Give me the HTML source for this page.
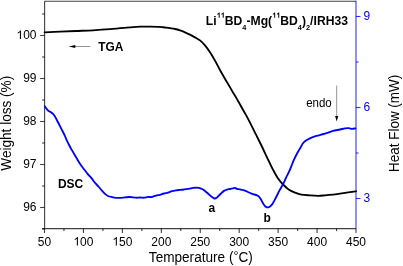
<!DOCTYPE html>
<html><head><meta charset="utf-8"><style>
html,body{margin:0;padding:0;background:#fff;}
svg{display:block;will-change:transform;}
text{font-family:"Liberation Sans", sans-serif;}
</style></head><body>
<svg width="403" height="266" viewBox="0 0 403 266">
<rect x="0" y="0" width="403" height="266" fill="#fff"/>
<g stroke="#000" stroke-width="1.1" stroke-opacity="0.75" fill="none">
<line x1="44.6" y1="1.3" x2="356.0" y2="1.3"/>
<line x1="44.6" y1="1.3" x2="44.6" y2="228.6"/>
<line x1="42.1" y1="228.6" x2="356.0" y2="228.6"/>
<line x1="44.50" y1="228.6" x2="44.50" y2="233.1" /><line x1="83.44" y1="228.6" x2="83.44" y2="233.1" /><line x1="122.38" y1="228.6" x2="122.38" y2="233.1" /><line x1="161.31" y1="228.6" x2="161.31" y2="233.1" /><line x1="200.25" y1="228.6" x2="200.25" y2="233.1" /><line x1="239.19" y1="228.6" x2="239.19" y2="233.1" /><line x1="278.12" y1="228.6" x2="278.12" y2="233.1" /><line x1="317.06" y1="228.6" x2="317.06" y2="233.1" /><line x1="356.00" y1="228.6" x2="356.00" y2="233.1" /><line x1="63.97" y1="228.6" x2="63.97" y2="231.1" /><line x1="102.91" y1="228.6" x2="102.91" y2="231.1" /><line x1="141.84" y1="228.6" x2="141.84" y2="231.1" /><line x1="180.78" y1="228.6" x2="180.78" y2="231.1" /><line x1="219.72" y1="228.6" x2="219.72" y2="231.1" /><line x1="258.66" y1="228.6" x2="258.66" y2="231.1" /><line x1="297.59" y1="228.6" x2="297.59" y2="231.1" /><line x1="336.53" y1="228.6" x2="336.53" y2="231.1" />
<line x1="40.1" y1="207.50" x2="44.6" y2="207.50" /><line x1="40.1" y1="164.50" x2="44.6" y2="164.50" /><line x1="40.1" y1="121.50" x2="44.6" y2="121.50" /><line x1="40.1" y1="78.50" x2="44.6" y2="78.50" /><line x1="40.1" y1="35.50" x2="44.6" y2="35.50" /><line x1="42.1" y1="229.00" x2="44.6" y2="229.00" /><line x1="42.1" y1="186.00" x2="44.6" y2="186.00" /><line x1="42.1" y1="143.00" x2="44.6" y2="143.00" /><line x1="42.1" y1="100.00" x2="44.6" y2="100.00" /><line x1="42.1" y1="57.00" x2="44.6" y2="57.00" /><line x1="42.1" y1="14.00" x2="44.6" y2="14.00" />
</g>
<g stroke="#0000ff" stroke-width="1.1" stroke-opacity="0.8" fill="none">
<line x1="356.0" y1="0.8" x2="356.0" y2="228.6"/>
<line x1="356.0" y1="198.50" x2="360.5" y2="198.50" /><line x1="356.0" y1="107.50" x2="360.5" y2="107.50" /><line x1="356.0" y1="16.50" x2="360.5" y2="16.50" /><line x1="356.0" y1="153.00" x2="358.5" y2="153.00" /><line x1="356.0" y1="62.00" x2="358.5" y2="62.00" />
</g>
<path d="M44.60,32.30 C47.17,32.20 54.77,31.92 60.00,31.70 C65.23,31.48 70.50,31.23 76.00,31.00 C81.50,30.77 87.33,30.60 93.00,30.30 C98.67,30.00 105.50,29.55 110.00,29.20 C114.50,28.85 116.67,28.50 120.00,28.20 C123.33,27.90 126.67,27.65 130.00,27.40 C133.33,27.15 136.67,26.83 140.00,26.70 C143.33,26.57 146.67,26.58 150.00,26.60 C153.33,26.62 157.50,26.65 160.00,26.80 C162.50,26.95 163.33,27.27 165.00,27.50 C166.67,27.73 168.33,27.95 170.00,28.20 C171.67,28.45 173.33,28.63 175.00,29.00 C176.67,29.37 178.33,29.85 180.00,30.40 C181.67,30.95 183.33,31.60 185.00,32.30 C186.67,33.00 188.33,33.75 190.00,34.60 C191.67,35.45 193.33,36.43 195.00,37.40 C196.67,38.37 198.33,39.07 200.00,40.40 C201.67,41.73 203.33,43.42 205.00,45.40 C206.67,47.38 208.33,49.77 210.00,52.30 C211.67,54.83 213.32,57.62 215.00,60.60 C216.68,63.58 218.68,67.60 220.10,70.20 C221.52,72.80 222.38,74.25 223.50,76.20 C224.62,78.15 225.68,80.00 226.80,81.90 C227.92,83.80 229.12,85.75 230.20,87.60 C231.28,89.45 232.40,91.50 233.30,93.00 C234.20,94.50 234.65,95.00 235.60,96.60 C236.55,98.20 237.87,100.58 239.00,102.60 C240.13,104.62 241.27,106.70 242.40,108.70 C243.53,110.70 244.62,112.45 245.80,114.60 C246.98,116.75 248.32,119.30 249.50,121.60 C250.68,123.90 251.77,126.13 252.90,128.40 C254.03,130.67 255.17,132.93 256.30,135.20 C257.43,137.47 258.57,139.70 259.70,142.00 C260.83,144.30 261.97,146.60 263.10,149.00 C264.23,151.40 265.38,154.03 266.50,156.40 C267.62,158.77 268.65,160.87 269.80,163.20 C270.95,165.53 272.05,167.88 273.40,170.40 C274.75,172.92 276.37,176.03 277.90,178.30 C279.43,180.57 280.82,182.13 282.60,184.00 C284.38,185.87 286.53,188.07 288.60,189.50 C290.67,190.93 292.88,191.75 295.00,192.60 C297.12,193.45 298.80,194.13 301.30,194.60 C303.80,195.07 307.22,195.20 310.00,195.40 C312.78,195.60 315.50,195.80 318.00,195.80 C320.50,195.80 322.50,195.58 325.00,195.40 C327.50,195.22 330.50,194.98 333.00,194.70 C335.50,194.42 338.00,194.00 340.00,193.70 C342.00,193.40 343.33,193.17 345.00,192.90 C346.67,192.63 348.17,192.37 350.00,192.10 C351.83,191.83 355.00,191.43 356.00,191.30" fill="none" stroke="#000" stroke-width="1.85" stroke-linejoin="round" stroke-linecap="round"/>
<path d="M44.80,106.30 C45.12,106.73 46.07,108.12 46.70,108.90 C47.33,109.68 47.90,110.45 48.60,111.00 C49.30,111.55 50.12,111.67 50.90,112.20 C51.68,112.73 52.52,113.30 53.30,114.20 C54.08,115.10 54.95,116.50 55.60,117.60 C56.25,118.70 56.53,119.52 57.20,120.80 C57.87,122.08 58.77,123.68 59.60,125.30 C60.43,126.92 61.32,128.75 62.20,130.50 C63.08,132.25 64.13,134.15 64.90,135.80 C65.67,137.45 66.20,139.07 66.80,140.40 C67.40,141.73 67.90,142.62 68.50,143.80 C69.10,144.98 69.72,146.25 70.40,147.50 C71.08,148.75 71.85,150.02 72.60,151.30 C73.35,152.58 74.03,153.72 74.90,155.20 C75.77,156.68 76.75,158.47 77.80,160.20 C78.85,161.93 80.17,164.10 81.20,165.60 C82.23,167.10 82.93,167.83 84.00,169.20 C85.07,170.57 86.35,172.30 87.60,173.80 C88.85,175.30 90.22,176.63 91.50,178.20 C92.78,179.77 94.17,181.85 95.30,183.20 C96.43,184.55 97.22,185.10 98.30,186.30 C99.38,187.50 100.68,189.13 101.80,190.40 C102.92,191.67 103.97,192.97 105.00,193.90 C106.03,194.83 106.83,195.47 108.00,196.00 C109.17,196.53 110.67,196.80 112.00,197.10 C113.33,197.40 114.67,197.68 116.00,197.80 C117.33,197.92 118.50,197.87 120.00,197.80 C121.50,197.73 123.33,197.53 125.00,197.40 C126.67,197.27 128.17,196.95 130.00,197.00 C131.83,197.05 134.33,197.62 136.00,197.70 C137.67,197.78 138.67,197.50 140.00,197.50 C141.33,197.50 142.67,197.80 144.00,197.70 C145.33,197.60 146.83,197.00 148.00,196.90 C149.17,196.80 150.00,197.22 151.00,197.10 C152.00,196.98 153.00,196.50 154.00,196.20 C155.00,195.90 156.00,195.53 157.00,195.30 C158.00,195.07 158.83,195.10 160.00,194.80 C161.17,194.50 162.67,193.85 164.00,193.50 C165.33,193.15 166.67,193.10 168.00,192.70 C169.33,192.30 170.67,191.50 172.00,191.10 C173.33,190.70 174.67,190.50 176.00,190.30 C177.33,190.10 178.67,190.03 180.00,189.90 C181.33,189.77 182.33,189.70 184.00,189.50 C185.67,189.30 188.50,188.97 190.00,188.70 C191.50,188.43 192.00,188.07 193.00,187.90 C194.00,187.73 195.00,187.70 196.00,187.70 C197.00,187.70 198.00,187.68 199.00,187.90 C200.00,188.12 201.00,188.50 202.00,189.00 C203.00,189.50 204.00,190.15 205.00,190.90 C206.00,191.65 207.00,192.62 208.00,193.50 C209.00,194.38 210.08,195.45 211.00,196.20 C211.92,196.95 212.83,197.62 213.50,198.00 C214.17,198.38 214.42,198.57 215.00,198.50 C215.58,198.43 216.50,197.95 217.00,197.60 C217.50,197.25 217.33,197.08 218.00,196.40 C218.67,195.72 220.00,194.42 221.00,193.50 C222.00,192.58 223.00,191.55 224.00,190.90 C225.00,190.25 226.00,189.92 227.00,189.60 C228.00,189.28 229.00,189.22 230.00,189.00 C231.00,188.78 232.17,188.48 233.00,188.30 C233.83,188.12 234.33,187.80 235.00,187.90 C235.67,188.00 236.17,188.65 237.00,188.90 C237.83,189.15 238.67,189.12 240.00,189.40 C241.33,189.68 243.50,190.08 245.00,190.60 C246.50,191.12 247.67,191.90 249.00,192.50 C250.33,193.10 251.67,193.73 253.00,194.20 C254.33,194.67 256.00,194.88 257.00,195.30 C258.00,195.72 258.33,195.98 259.00,196.70 C259.67,197.42 260.33,198.50 261.00,199.60 C261.67,200.70 262.33,202.22 263.00,203.30 C263.67,204.38 264.33,205.43 265.00,206.10 C265.67,206.77 266.33,207.13 267.00,207.30 C267.67,207.47 268.33,207.37 269.00,207.10 C269.67,206.83 270.33,206.38 271.00,205.70 C271.67,205.02 272.20,204.32 273.00,203.00 C273.80,201.68 274.67,199.98 275.80,197.80 C276.93,195.62 278.57,192.22 279.80,189.90 C281.03,187.58 282.12,186.02 283.20,183.90 C284.28,181.78 285.28,179.32 286.30,177.20 C287.32,175.08 288.47,173.02 289.30,171.20 C290.13,169.38 290.53,168.18 291.30,166.30 C292.07,164.42 292.92,162.08 293.90,159.90 C294.88,157.72 296.10,155.23 297.20,153.20 C298.30,151.17 299.57,149.32 300.50,147.70 C301.43,146.08 301.95,144.65 302.80,143.50 C303.65,142.35 304.50,141.62 305.60,140.80 C306.70,139.98 307.98,139.28 309.40,138.60 C310.82,137.92 312.53,137.25 314.10,136.70 C315.67,136.15 317.23,135.75 318.80,135.30 C320.37,134.85 321.93,134.45 323.50,134.00 C325.07,133.55 326.62,133.12 328.20,132.60 C329.78,132.08 331.03,131.42 333.00,130.90 C334.97,130.38 338.00,129.92 340.00,129.50 C342.00,129.08 343.50,128.62 345.00,128.40 C346.50,128.18 347.83,128.12 349.00,128.20 C350.17,128.28 350.92,128.87 352.00,128.90 C353.08,128.93 354.92,128.48 355.50,128.40" fill="none" stroke="#0000ff" stroke-width="1.85" stroke-linejoin="round" stroke-linecap="round"/>
<g font-size="12" fill="#000"><text transform="translate(44.50,245.50) scale(1,1.04)" text-anchor="middle">50</text><text transform="translate(83.44,245.50) scale(1,1.04)" text-anchor="middle"> 00</text><text transform="translate(122.38,245.50) scale(1,1.04)" text-anchor="middle"> 50</text><text transform="translate(161.31,245.50) scale(1,1.04)" text-anchor="middle">200</text><text transform="translate(200.25,245.50) scale(1,1.04)" text-anchor="middle">250</text><text transform="translate(239.19,245.50) scale(1,1.04)" text-anchor="middle">300</text><text transform="translate(278.12,245.50) scale(1,1.04)" text-anchor="middle">350</text><text transform="translate(317.06,245.50) scale(1,1.04)" text-anchor="middle">400</text><text transform="translate(356.00,245.50) scale(1,1.04)" text-anchor="middle">450</text><text transform="translate(36.50,211.00) scale(1,1.04)" text-anchor="end">96</text><text transform="translate(36.50,168.00) scale(1,1.04)" text-anchor="end">97</text><text transform="translate(36.50,125.00) scale(1,1.04)" text-anchor="end">98</text><text transform="translate(36.50,82.00) scale(1,1.04)" text-anchor="end">99</text><text transform="translate(36.50,39.00) scale(1,1.04)" text-anchor="end"> 00</text></g>
<g font-size="12" fill="#0000ff"><text transform="translate(363.50,202.30) scale(1,1.04)" >3</text><text transform="translate(363.50,111.30) scale(1,1.04)" >6</text><text transform="translate(363.50,20.30) scale(1,1.04)" >9</text></g>
<text transform="translate(200.80,262.20) scale(1,1.04)" font-size="13.6" text-anchor="middle">Temperature (<tspan font-size="12.5" dy="-2.3">°</tspan><tspan dy="2.3">C)</tspan></text>
<text transform="translate(10.8,123.25) rotate(-90) scale(1,1.04)" font-size="13.6" text-anchor="middle">Weight loss (%)</text>
<text transform="translate(399.1,123.35) rotate(-90) scale(1,1.04)" font-size="13.45" text-anchor="middle">Heat Flow (mW)</text>
<text transform="translate(98.30,51.00) scale(1,1.04)" font-size="11.9" font-weight="bold">TGA</text>
<text transform="translate(57.90,188.40) scale(1,1.04)" font-size="12" font-weight="bold">DSC</text>
<text transform="translate(208.60,211.80) scale(1,1.04)" font-size="12" font-weight="bold">a</text>
<text transform="translate(263.60,221.60) scale(1,1.04)" font-size="12" font-weight="bold">b</text>
<text transform="translate(306.20,107.20) scale(1,1.04)" font-size="11.5">endo</text>
<g stroke="#000" stroke-width="0.6" stroke-opacity="0.7"><line x1="74" y1="46.5" x2="90.3" y2="46.5"/><line x1="336.7" y1="85.5" x2="336.7" y2="117"/></g>
<path d="M68.7,46.5 L75.3,44.9 L75.3,48.1 Z" fill="#000"/>
<path d="M336.7,121.5 L335.1,116 L338.3,116 Z" fill="#000"/>
<text id="title" transform="translate(205.8,25.0) scale(1,1.04)" font-size="12.15" font-weight="bold" letter-spacing="0.02">Li<tspan font-size="7.3" dy="-7.0">  </tspan><tspan dy="7.0">BD</tspan><tspan font-size="7.3" dy="4.5">4</tspan><tspan dy="-4.5">-Mg(</tspan><tspan font-size="7.3" dy="-7.0">  </tspan><tspan dy="7.0">BD</tspan><tspan font-size="7.3" dy="4.5">4</tspan><tspan dy="-4.5">)</tspan><tspan font-size="7.3" dy="4.5">2</tspan><tspan dy="-4.5">/IRH33</tspan></text>
<g><path transform="matrix(1.0000,0.0000,0.0000,1.0400,83.440,245.500) translate(-10.009,0.000) scale(0.005859,-0.005634)" d="M763,0H583V1147Q518,1085 412,1023Q307,961 223,930V1104Q374,1175 487,1276Q600,1377 647,1472H763Z" fill="rgb(0, 0, 0)"/><path transform="matrix(1.0000,0.0000,0.0000,1.0400,122.380,245.500) translate(-10.009,0.000) scale(0.005859,-0.005634)" d="M763,0H583V1147Q518,1085 412,1023Q307,961 223,930V1104Q374,1175 487,1276Q600,1377 647,1472H763Z" fill="rgb(0, 0, 0)"/><path transform="matrix(1.0000,0.0000,0.0000,1.0400,36.500,39.000) translate(-20.018,0.000) scale(0.005859,-0.005634)" d="M763,0H583V1147Q518,1085 412,1023Q307,961 223,930V1104Q374,1175 487,1276Q600,1377 647,1472H763Z" fill="rgb(0, 0, 0)"/><path transform="matrix(1.0000,0.0000,0.0000,1.0400,205.800,25.000) translate(10.828,-7.000) scale(0.003564,-0.003427)" d="M851,0H570V1059Q416,915 207,846V1101Q317,1137 446,1237Q575,1338 623,1472H851Z" fill="rgb(0, 0, 0)"/><path transform="matrix(1.0000,0.0000,0.0000,1.0400,205.800,25.000) translate(14.902,-7.000) scale(0.003564,-0.003427)" d="M851,0H570V1059Q416,915 207,846V1101Q317,1137 446,1237Q575,1338 623,1472H851Z" fill="rgb(0, 0, 0)"/><path transform="matrix(1.0000,0.0000,0.0000,1.0400,205.800,25.000) translate(66.332,-7.000) scale(0.003564,-0.003427)" d="M851,0H570V1059Q416,915 207,846V1101Q317,1137 446,1237Q575,1338 623,1472H851Z" fill="rgb(0, 0, 0)"/><path transform="matrix(1.0000,0.0000,0.0000,1.0400,205.800,25.000) translate(70.406,-7.000) scale(0.003564,-0.003427)" d="M851,0H570V1059Q416,915 207,846V1101Q317,1137 446,1237Q575,1338 623,1472H851Z" fill="rgb(0, 0, 0)"/></g>
</svg>
</body></html>
